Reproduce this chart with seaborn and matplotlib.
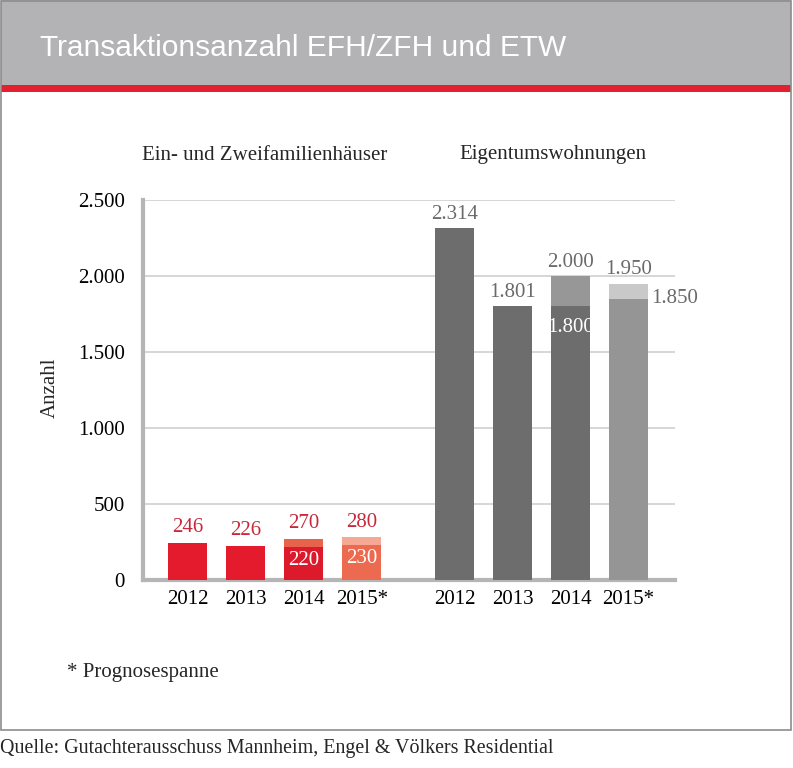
import numpy as np
import pandas as pd
import matplotlib
matplotlib.use("Agg")
import matplotlib.pyplot as plt
from matplotlib.patches import Rectangle
import seaborn as sns

# Daten
jahre = ["2012", "2013", "2014", "2015*"]
efh_unten = [246, 226, 220, 230]
efh_oben = [246, 226, 270, 280]
etw_unten = [2314, 1801, 1800, 1850]
etw_oben = [2314, 1801, 2000, 1950]
positionen = [0, 1, 2, 3, 4.6, 5.6, 6.6, 7.6]

farben_unten = ["#e31b2c", "#e31b2c", "#dd1a2b", "#ec6a4f",
                "#6d6d6d", "#6d6d6d", "#6d6d6d", "#959595"]
farben_oben = ["#e31b2c", "#e31b2c", "#e8634b", "#f5a893",
               "#6d6d6d", "#6d6d6d", "#979797", "#c9c9c9"]

df = pd.DataFrame({
    "pos": positionen,
    "unten": efh_unten + etw_unten,
    "oben": efh_oben + etw_oben,
})

sns.set_style("white")
plt.rcParams["font.family"] = ["Liberation Serif", "DejaVu Serif"]

W, H = 793, 768
fig = plt.figure(figsize=(W / 100, H / 100), dpi=100)

# Kopfzeile und Rahmen
fig.patches.append(Rectangle((1 / W, 1 - 85 / H), 790 / W, 85 / H, transform=fig.transFigure,
                             facecolor="#b3b3b5", edgecolor="none", zorder=0))
fig.patches.append(Rectangle((1 / W, 1 - 92 / H), 790 / W, 7 / H, transform=fig.transFigure,
                             facecolor="#e2202f", edgecolor="none", zorder=1))
fig.patches.append(Rectangle((1 / W, 1 - 730 / H), 790 / W, 729 / H, transform=fig.transFigure,
                             facecolor="none", edgecolor="#8c8c8c", linewidth=1.2, zorder=2))
fig.text(40 / W, 1 - 48 / H, "Transaktionsanzahl EFH/ZFH und ETW", color="white",
         fontsize=21.5, va="center", ha="left",
         family=["Liberation Sans Narrow", "Liberation Sans"])

ax = fig.add_axes([143 / W, (H - 580) / H, 532 / W, 380 / H])

sns.barplot(data=df, x="pos", y="oben", native_scale=True, width=0.68, ax=ax,
            color="#888888", saturation=1, zorder=2)
n = len(ax.patches)
sns.barplot(data=df, x="pos", y="unten", native_scale=True, width=0.68, ax=ax,
            color="#888888", saturation=1, zorder=3)
for i, p in enumerate(ax.patches[:n]):
    p.set_facecolor(farben_oben[i])
    p.set_edgecolor("none")
for i, p in enumerate(ax.patches[n:]):
    p.set_facecolor(farben_unten[i])
    p.set_edgecolor("none")

ax.set_xlim(-0.77, 8.4)
ax.set_ylim(0, 2500)
ax.set_yticks([0, 500, 1000, 1500, 2000, 2500])
ax.set_yticklabels(["0", "500", "1.000", "1.500", "2.000", "2.500"])
ax.set_xticks(positionen)
ax.set_xticklabels(jahre * 2)
ax.tick_params(axis="both", length=0, labelsize=15, colors="black")
ax.tick_params(axis="y", pad=13)
ax.tick_params(axis="x", pad=7)
ax.set_xlabel("")
ax.set_ylabel("")
ax.grid(axis="y", color="#d0d0d0", linewidth=1.2, zorder=0)
ax.set_axisbelow(True)
for s in ["top", "right"]:
    ax.spines[s].set_visible(False)
for s in ["left", "bottom"]:
    ax.spines[s].set_color("#b5b5b5")
    ax.spines[s].set_linewidth(3)

rot = "#c8283a"
grau = "#6a6a6a"

# Beschriftungen EFH
for i in range(4):
    x = positionen[i]
    ax.annotate(str(efh_oben[i]), (x, efh_oben[i]), xytext=(0, 4), textcoords="offset points",
                ha="center", va="bottom", color=rot, fontsize=15)
    if efh_unten[i] != efh_oben[i]:
        ax.annotate(str(efh_unten[i]), (x, efh_unten[i]), xytext=(0, -3), textcoords="offset points",
                    ha="center", va="top", color="white", fontsize=15, zorder=5)

# Beschriftungen ETW
def fmt(v):
    return f"{v:,}".replace(",", ".")

for i in range(4):
    x = positionen[4 + i]
    ax.annotate(fmt(etw_oben[i]), (x, etw_oben[i]), xytext=(0, 3), textcoords="offset points",
                ha="center", va="bottom", color=grau, fontsize=15)
ax.annotate(fmt(etw_unten[2]), (positionen[6], etw_unten[2]), xytext=(0, -8), textcoords="offset points",
            ha="center", va="top", color="white", fontsize=15, zorder=5)
ax.annotate(fmt(etw_unten[3]), (positionen[7] + 0.34, etw_unten[3]), xytext=(2, 0), textcoords="offset points",
            ha="left", va="center", color=grau, fontsize=15)

# Gruppentitel
fig.text(265 / W, 1 - 155 / H, "Ein- und Zweifamilienhäuser", ha="center", va="center", fontsize=15)
fig.text(553 / W, 1 - 155 / H, "Eigentumswohnungen", ha="center", va="center", fontsize=15)
fig.text(50 / W, 1 - 388 / H, "Anzahl", rotation=90, ha="center", va="center", fontsize=15)

fig.text(67 / W, 1 - 673 / H, "* Prognosespanne", ha="left", va="center", fontsize=15)
fig.text(0, 1 - 748 / H, "Quelle: Gutachterausschuss Mannheim, Engel & Völkers Residential",
         ha="left", va="center", fontsize=14.4)

fig.savefig("out.png", dpi=100)
